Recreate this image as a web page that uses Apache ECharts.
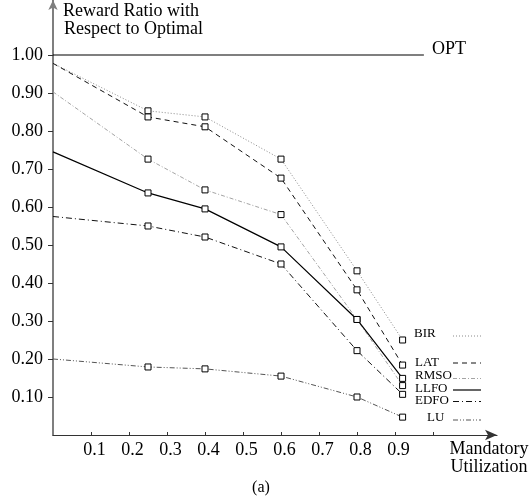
<!DOCTYPE html>
<html>
<head>
<meta charset="utf-8">
<script src="https://cdn.jsdelivr.net/npm/echarts@6/dist/echarts.min.js"></script>
<style>
html,body{margin:0;padding:0;background:#fff;}
#chart{width:532px;height:498px;}
</style>
</head>
<body>
<div id="chart"></div>
<script>
// ---- data ----
var utilization = [0, 0.25, 0.4, 0.6, 0.8, 0.92];
var BIR  = [0.978, 0.853, 0.837, 0.726, 0.432, 0.250];
var LAT  = [0.978, 0.837, 0.811, 0.676, 0.382, 0.184];
var RMSO = [0.903, 0.726, 0.645, 0.580, 0.304, 0.130];
var LLFO = [0.745, 0.637, 0.595, 0.495, 0.304, 0.149];
var EDFO = [0.575, 0.550, 0.521, 0.450, 0.222, 0.107];
var LU   = [0.200, 0.179, 0.174, 0.155, 0.100, 0.047];
var OPT_X = [0, 0.976];
var OPT  = [1.0, 1.0];
var xTickLabels = [0.1, 0.2, 0.3, 0.4, 0.5, 0.6, 0.7, 0.8, 0.9];
var xTicks = [0.1, 0.2, 0.3, 0.4, 0.5, 0.6, 0.7, 0.8, 0.9, 1.0];
var yTicks = [0.1, 0.2, 0.3, 0.4, 0.5, 0.6, 0.7, 0.8, 0.9, 1.0];

var FONT = 'Liberation Serif';

function pts(ys) {
  return utilization.map(function (x, i) {
    var d = { value: [x, ys[i]] };
    if (i === 0) d.symbol = 'none';
    return d;
  });
}

var styles = {
  BIR:  { color: '#8a8a8a', width: 1,   type: [1, 2] },
  LAT:  { color: '#111',    width: 1,   type: [5, 4] },
  RMSO: { color: '#9a9a9a', width: 0.9, type: [4, 2, 1, 2] },
  LLFO: { color: '#000',    width: 1.2, type: 'solid' },
  EDFO: { color: '#111',    width: 1,   type: [6, 3, 1, 3] },
  LU:   { color: '#555',    width: 1,   type: [5, 2, 1, 2, 1, 2] }
};
var seriesData = { BIR: BIR, LAT: LAT, RMSO: RMSO, LLFO: LLFO, EDFO: EDFO, LU: LU };

var series = Object.keys(seriesData).map(function (name) {
  return {
    name: name,
    type: 'line',
    data: pts(seriesData[name]),
    symbol: 'rect',
    symbolSize: 6,
    showAllSymbol: true,
    itemStyle: { color: '#fff', borderColor: '#000', borderWidth: 1 },
    lineStyle: styles[name],
    emphasis: { disabled: true },
    animation: false,
    z: name === 'LLFO' ? 3 : 2
  };
});

series.push({
  name: 'OPT',
  type: 'line',
  data: OPT_X.map(function (x, i) { return [x, OPT[i]]; }),
  symbol: 'none',
  lineStyle: { color: '#000', width: 1.2 },
  endLabel: { show: true, formatter: 'OPT', distance: 8, offset: [0, -6],
              fontFamily: FONT, fontSize: 18, color: '#000' },
  animation: false
});

// legend block (text then line sample)
var legendRows = [
  { name: 'BIR',  tx: 414, ty: 334, ly: 336 },
  { name: 'LAT',  tx: 415, ty: 363, ly: 363 },
  { name: 'RMSO', tx: 415, ty: 376, ly: 378.5 },
  { name: 'LLFO', tx: 415, ty: 388.5, ly: 390 },
  { name: 'EDFO', tx: 415, ty: 401, ly: 401.5 },
  { name: 'LU',   tx: 427, ty: 418, ly: 420 }
];
var graphics = [];
legendRows.forEach(function (r) {
  var s = styles[r.name];
  graphics.push({
    type: 'text',
    style: { text: r.name, x: r.tx, y: r.ty, textVerticalAlign: 'middle',
             font: '13px "' + FONT + '"', fill: '#000' }
  });
  graphics.push({
    type: 'line',
    shape: { x1: 453, y1: r.ly, x2: 481, y2: r.ly },
    style: { stroke: s.color, lineWidth: s.width,
             lineDash: s.type === 'solid' ? null : s.type }
  });
});
graphics.push({
  type: 'text',
  style: { text: 'Reward Ratio with', x: 63, y: 11, textVerticalAlign: 'middle',
           font: '18px "' + FONT + '"', fill: '#000' }
});
graphics.push({
  type: 'text',
  style: { text: 'Respect to Optimal', x: 64, y: 29, textVerticalAlign: 'middle',
           font: '18px "' + FONT + '"', fill: '#000' }
});
graphics.push({
  type: 'text',
  style: { text: 'Mandatory', x: 489, y: 449, textAlign: 'center', textVerticalAlign: 'middle',
           font: '18px "' + FONT + '"', fill: '#000' }
});
graphics.push({
  type: 'text',
  style: { text: 'Utilization', x: 489, y: 467, textAlign: 'center', textVerticalAlign: 'middle',
           font: '18px "' + FONT + '"', fill: '#000' }
});
graphics.push({
  type: 'text',
  style: { text: '(a)', x: 261, y: 488, textAlign: 'center', textVerticalAlign: 'middle',
           font: '16px "' + FONT + '"', fill: '#000' }
});

var chart = echarts.init(document.getElementById('chart'), null, { renderer: 'canvas' });
chart.setOption({
  backgroundColor: '#fff',
  animation: false,
  grid: { left: 53, top: 0, width: 444, height: 435, containLabel: false, outerBoundsMode: 'none' },
  xAxis: {
    type: 'value', min: 0, max: 1.1684, interval: 0.1,
    axisLine: { show: true, lineStyle: { color: '#333', width: 1.2 },
                symbol: ['none', 'arrow'], symbolSize: [8, 12] },
    axisTick: { show: true, inside: true, length: 3, customValues: xTicks,
                lineStyle: { color: '#333' } },
    axisLabel: { customValues: xTickLabels, margin: 6, padding: [0, 0, 0, 7],
                 formatter: function (v) { return v.toFixed(1); },
                 fontFamily: FONT, fontSize: 18, color: '#000' },
    splitLine: { show: false }
  },
  yAxis: {
    type: 'value', min: 0, max: 1.1447, interval: 0.1,
    axisLine: { show: true, lineStyle: { color: '#7f7f7f', width: 2 },
                symbol: ['none', 'arrow'], symbolSize: [7, 10] },
    axisTick: { show: true, length: 5, customValues: yTicks,
                lineStyle: { color: '#333' } },
    axisLabel: { customValues: yTicks, margin: 10, padding: [0, 0, 10, 0],
                 formatter: function (v) { return v.toFixed(2); },
                 fontFamily: FONT, fontSize: 18, color: '#000' },
    splitLine: { show: false }
  },
  series: series,
  graphic: graphics
});
</script>
</body>
</html>
